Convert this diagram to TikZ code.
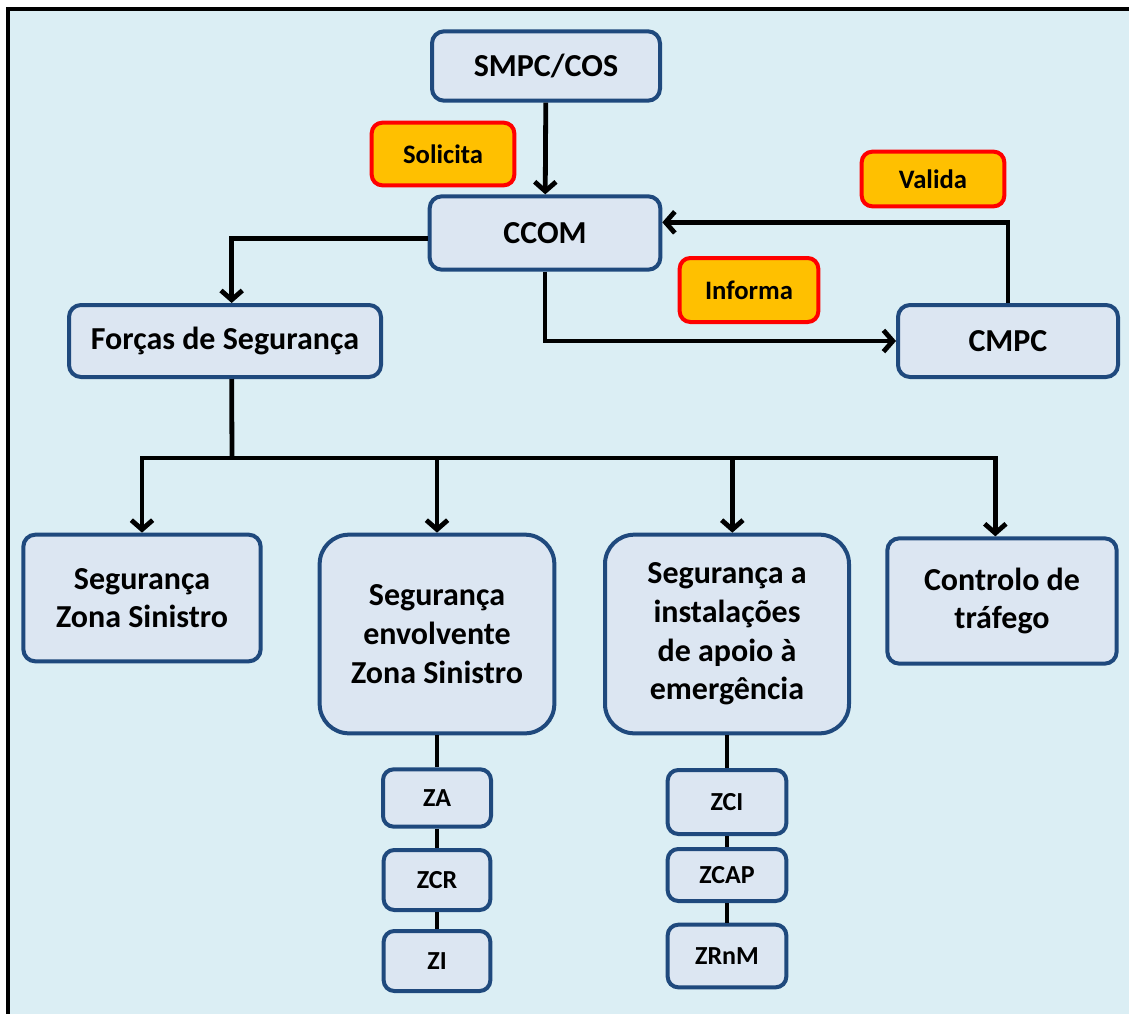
\documentclass[tikz,border=0pt]{standalone}
\usepackage{fontspec}
\setmainfont{Carlito}
\usetikzlibrary{arrows.meta}
\definecolor{sheetblue}{HTML}{DBEEF4}
\definecolor{unitfill}{HTML}{DCE6F2}
\definecolor{unitline}{HTML}{1F497D}
\definecolor{tagfill}{HTML}{FFC000}
\tikzset{
    unit/.style={draw=unitline, fill=unitfill, line width=3pt, rounded corners=9pt,
        align=center, inner sep=0pt, font=\bfseries\fontsize{24}{29}\selectfont},
    bigunit/.style={unit, rounded corners=22pt},
    zone/.style={unit, rounded corners=8pt, font=\bfseries\fontsize{19.5}{23}\selectfont},
    tag/.style={draw=red, fill=tagfill, line width=3pt, rounded corners=8pt,
        inner sep=0pt, font=\bfseries\fontsize{20}{24}\selectfont},
    wire/.style={line width=3.6pt, black},
    arr/.style={wire, -{Straight Barb[length=7pt, width=16pt]}}
}
\begin{document}
\begin{tikzpicture}[x=0.75pt, y=-0.75pt]
    \useasboundingbox (0,0) rectangle (1129,1014);
    \fill[white] (0,0) rectangle (1129,1014);
    \fill[sheetblue] (10,11) rectangle (1129,1014);
    \draw[line width=3pt] (8,1014) -- (8,9) -- (1129,9);

    \node[unit, minimum width=171pt, minimum height=52pt] (smpc) at (546,66) {SMPC/COS};
    \node[unit, minimum width=173pt, minimum height=55pt] (ccom) at (545,233) {CCOM};
    \node[unit, minimum width=165pt, minimum height=54pt] (cmpc) at (1008,341) {CMPC};
    \node[unit, minimum width=234pt, minimum height=54pt] (forcas) at (225,341) {Forças de Segurança};
    \node[tag, minimum width=107pt, minimum height=47pt] (solicita) at (443,154) {Solicita};
    \node[tag, minimum width=107pt, minimum height=41pt] (valida) at (933,179) {Valida};
    \node[tag, minimum width=104pt, minimum height=48pt] (informa) at (749,290) {Informa};

    \node[unit, minimum width=178pt, minimum height=95pt] (zsin) at (142,598) {Segurança\\Zona Sinistro};
    \node[bigunit, minimum width=176pt, minimum height=149pt] (envol) at (437,634) {Segurança\\envolvente\\Zona Sinistro};
    \node[bigunit, minimum width=183pt, minimum height=149pt] (instal) at (727,634) {Segurança a\\instalações\\de apoio à\\emergência};
    \node[unit, minimum width=172pt, minimum height=94pt] (trafego) at (1002,601) {Controlo de\\tráfego};

    \node[zone, minimum width=81pt, minimum height=43pt] (za) at (437,798) {ZA};
    \node[zone, minimum width=80pt, minimum height=45pt] (zcr) at (437,880) {ZCR};
    \node[zone, minimum width=80pt, minimum height=45pt] (zi) at (437,961) {ZI};
    \node[zone, minimum width=89pt, minimum height=48pt] (zci) at (727,802) {ZCI};
    \node[zone, minimum width=89pt, minimum height=39pt] (zcap) at (727,875) {ZCAP};
    \node[zone, minimum width=89pt, minimum height=47pt] (zrnm) at (727,956) {ZRnM};

    \coordinate (bus) at (232,458);

    \draw[arr] (smpc) -- (ccom);
    \draw[arr] (cmpc.north) |- ([yshift=8pt]ccom.east);
    \draw[arr] (ccom.south) |- (cmpc.west);
    \draw[arr] ([yshift=-4pt]ccom.west) -| ([xshift=5pt]forcas.north);
    \draw[wire] ([xshift=5pt]forcas.south) -- (bus);
    \draw[wire, line cap=rect] (zsin.north |- bus) -- ([xshift=-5pt]trafego.north |- bus);
    \draw[arr] (zsin.north |- bus) -- (zsin.north);
    \draw[arr] (envol.north |- bus) -- (envol.north);
    \draw[arr] ([xshift=4pt]instal.north |- bus) -- ([xshift=4pt]instal.north);
    \draw[arr] ([xshift=-5pt]trafego.north |- bus) -- ([xshift=-5pt]trafego.north);

    \draw[wire] (envol) -- (za);
    \draw[wire] (za) -- (zcr);
    \draw[wire] (zcr) -- (zi);
    \draw[wire] (instal) -- (zci);
    \draw[wire] (zci) -- (zcap);
    \draw[wire] (zcap) -- (zrnm);
\end{tikzpicture}
\end{document}
